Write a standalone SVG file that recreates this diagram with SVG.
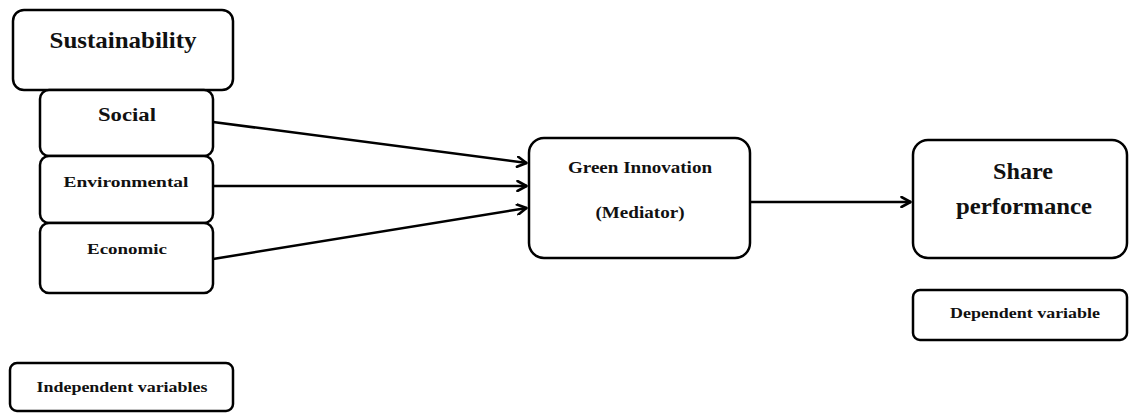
<svg xmlns="http://www.w3.org/2000/svg" width="1130" height="414" viewBox="0 0 1130 414">
<style>
.box{fill:#fff;stroke:#000;stroke-width:2.5}
.t{font-family:"Liberation Serif","DejaVu Serif",serif;font-weight:bold;fill:#111;text-anchor:middle}
.c{stroke:#000;stroke-width:2.5;fill:none}
</style>
<defs>
<marker id="ah" viewBox="0 0 12 12" refX="11" refY="6" markerWidth="12" markerHeight="12" markerUnits="userSpaceOnUse" orient="auto">
<path d="M1.5,1 L10.5,6 L1.5,11" fill="none" stroke="#000" stroke-width="2.6" stroke-linecap="round" stroke-linejoin="round"/>
</marker>
</defs>
<g id="connectors">
<line class="c" x1="213" y1="122" x2="527" y2="163" marker-end="url(#ah)"/>
<line class="c" x1="213" y1="186" x2="527" y2="186" marker-end="url(#ah)"/>
<line class="c" x1="213" y1="259" x2="527" y2="208" marker-end="url(#ah)"/>
<line class="c" x1="751" y1="202" x2="911" y2="202" marker-end="url(#ah)"/>
</g>
<g id="sustainability">
<rect class="box" x="13" y="10" width="220" height="80" rx="11"/>
<text class="t" x="123" y="48" font-size="24" textLength="147" lengthAdjust="spacingAndGlyphs">Sustainability</text>
</g>
<g id="social">
<rect class="box" x="40" y="90" width="173" height="66" rx="9"/>
<text class="t" x="127" y="121" font-size="18" textLength="58" lengthAdjust="spacingAndGlyphs">Social</text>
</g>
<g id="environmental">
<rect class="box" x="40" y="156" width="173" height="67" rx="9"/>
<text class="t" x="126" y="187" font-size="15" textLength="125" lengthAdjust="spacingAndGlyphs">Environmental</text>
</g>
<g id="economic">
<rect class="box" x="40" y="223" width="173" height="70" rx="9"/>
<text class="t" x="127" y="254" font-size="15" textLength="80" lengthAdjust="spacingAndGlyphs">Economic</text>
</g>
<g id="green-innovation">
<rect class="box" x="529" y="138" width="221" height="120" rx="15"/>
<text class="t" x="640" y="173" font-size="16" textLength="144" lengthAdjust="spacingAndGlyphs">Green Innovation</text>
<text class="t" x="640" y="218" font-size="16" textLength="89" lengthAdjust="spacingAndGlyphs">(Mediator)</text>
</g>
<g id="share-performance">
<rect class="box" x="913" y="140" width="214" height="118" rx="15"/>
<text class="t" x="1023" y="179" font-size="23" textLength="60" lengthAdjust="spacingAndGlyphs">Share</text>
<text class="t" x="1024" y="214" font-size="23" textLength="136" lengthAdjust="spacingAndGlyphs">performance</text>
</g>
<g id="dependent-variable">
<rect class="box" x="913" y="290" width="214" height="50" rx="7"/>
<text class="t" x="1025" y="318" font-size="15" textLength="150" lengthAdjust="spacingAndGlyphs">Dependent variable</text>
</g>
<g id="independent-variables">
<rect class="box" x="10" y="363" width="223" height="48" rx="7"/>
<text class="t" x="122" y="392" font-size="15" textLength="171" lengthAdjust="spacingAndGlyphs">Independent variables</text>
</g>
</svg>
